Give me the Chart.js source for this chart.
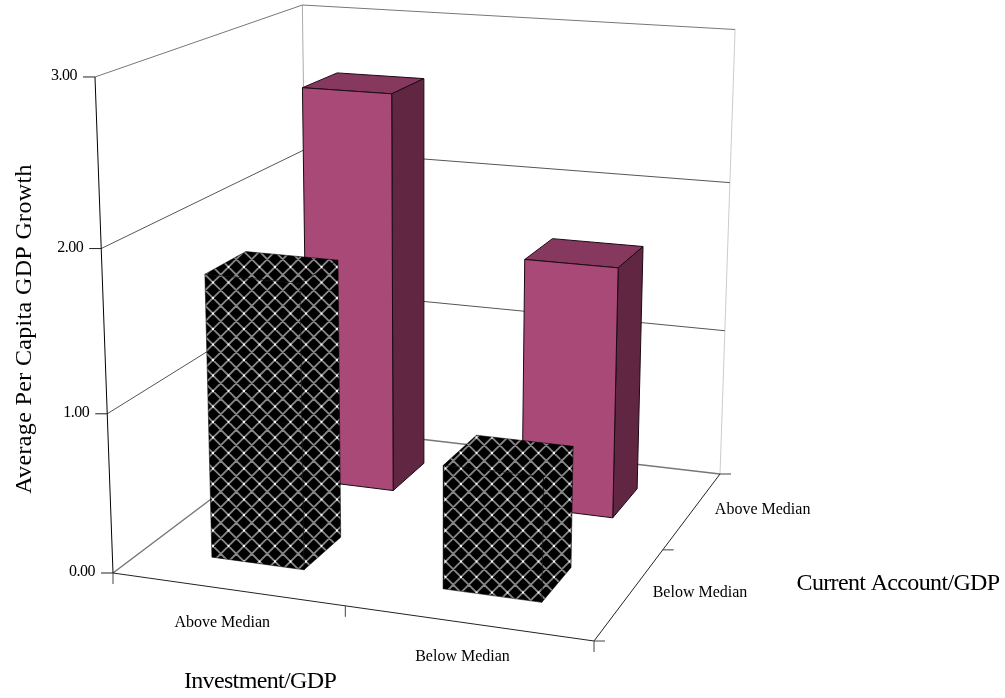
<!DOCTYPE html>
<html>
<head>
<meta charset="utf-8">
<style>
html, body { margin: 0; padding: 0; background: #fff; }
#wrap { width: 1005px; height: 698px; }
</style>
<script src="https://cdn.jsdelivr.net/npm/chart.js@4"></script>
</head>
<body>
<div id="wrap"><canvas id="chart" width="1005" height="698"></canvas></div>
<script>
// chart values
const investmentCategories = ['Above Median', 'Below Median'];
const currentAccountCategories = ['Below Median', 'Above Median']; // front to back
const growthBelowCA = [1.78, 0.77];   // black bars
const growthAboveCA = [2.64, 1.645];  // pink bars
const valueTicks = ['0.00', '1.00', '2.00', '3.00'];

const yTitle = 'Average Per Capita GDP Growth';
const xTitle = 'Investment/GDP';
const zTitle = 'Current Account/GDP';

const maxValue = 3;
const barWidthU = 0.203;
const barWidthV = 0.195;
const barShiftV = -0.006;

// floor of the 3d box on screen: front-left, front-right, back-right, back-left
const floorCorners = [[113, 573], [594, 641], [720, 474], [308, 426]];
const verticalVanish = [425, 9170]; // where the upright edges meet
const verticalScale = -0.05455;     // sets how tall the box is

// homography of the unit square onto the floor, returned in homogeneous form
function quadMap(q) {
    const [p0, p1, p2, p3] = q;
    const dx1 = p1[0] - p2[0], dx2 = p3[0] - p2[0], sx = p0[0] - p1[0] + p2[0] - p3[0];
    const dy1 = p1[1] - p2[1], dy2 = p3[1] - p2[1], sy = p0[1] - p1[1] + p2[1] - p3[1];
    const det = dx1 * dy2 - dx2 * dy1;
    const g = (sx * dy2 - dx2 * sy) / det;
    const h = (dx1 * sy - sx * dy1) / det;
    const a = p1[0] - p0[0] + g * p1[0], b = p3[0] - p0[0] + h * p3[0];
    const d = p1[1] - p0[1] + g * p1[1], e = p3[1] - p0[1] + h * p3[1];
    return (u, v) => [a * u + b * v + p0[0], d * u + e * v + p0[1], g * u + h * v + 1];
}
const floorMap = quadMap(floorCorners);

// u along Investment, v along Current Account, val in chart units
function project(u, v, val) {
    const [X, Y, W] = floorMap(u, v);
    const k = verticalScale * val / maxValue;
    const w = W + k;
    return { x: (X + k * verticalVanish[0]) / w, y: (Y + k * verticalVanish[1]) / w };
}

// lattice fill of the black bars, two periods of 15.5px so the tile wraps
function makePattern() {
    const tile = document.createElement('canvas');
    tile.width = 31; tile.height = 31;
    const c = tile.getContext('2d');
    const step = 15.5;
    c.fillStyle = '#000';
    c.fillRect(0, 0, 31, 31);
    c.strokeStyle = '#858585';
    c.lineWidth = 1.9;
    c.beginPath();
    for (let n = -4; n <= 8; n++) {
        const s = 15 + n * step, d = 8 + n * step;
        c.moveTo(-2, s + 2); c.lineTo(33, s - 33);
        c.moveTo(-2, -2 - d); c.lineTo(33, 33 - d);
    }
    c.stroke();
    c.fillStyle = '#fff';
    [11.5, 27].forEach(x => [3.5, 19].forEach(y => c.fillRect(x - 1, y - 1, 2, 2)));
    return c.createPattern(tile, 'repeat');
}

function lineSet(points, color, width) {
    return { data: points, borderColor: color, borderWidth: width || 1, fill: false, showLine: true, pointRadius: 0 };
}

function faceSet(points, color, edge) {
    return {
        data: points.concat([points[0]]),
        borderColor: edge, borderWidth: 1, backgroundColor: color,
        fill: 'shape', showLine: true, pointRadius: 0
    };
}

function barFaces(i, j, value, colors) {
    const u0 = (i + 0.5) / 2 - barWidthU / 2, u1 = u0 + barWidthU;
    const v0 = (j + 0.5) / 2 + barShiftV - barWidthV / 2, v1 = v0 + barWidthV;
    return [
        faceSet([project(u0, v1, value), project(u1, v1, value), project(u1, v0, value), project(u0, v0, value)], colors.top, colors.edge),
        faceSet([project(u1, v0, 0), project(u1, v1, 0), project(u1, v1, value), project(u1, v0, value)], colors.side, colors.edge),
        faceSet([project(u0, v0, 0), project(u1, v0, 0), project(u1, v0, value), project(u0, v0, value)], colors.front, colors.edge)
    ];
}

function frameLines() {
    const sets = [];
    const dark = '#555', wall = '#777';
    // walls
    sets.push(lineSet([project(0, 1, 0), project(0, 1, maxValue)], '#aaa'));
    sets.push(lineSet([project(1, 1, 0), project(1, 1, maxValue)], '#ccc'));
    sets.push(lineSet([project(0, 1, maxValue), project(1, 1, maxValue)], wall));
    sets.push(lineSet([project(0, 0, maxValue), project(0, 1, maxValue)], wall));
    // value gridlines
    valueTicks.forEach((t, n) => {
        if (n === 0 || n === 3) return;
        sets.push(lineSet([project(0, 0, n), project(0, 1, n), project(1, 1, n)], dark));
    });
    // floor
    sets.push(lineSet([project(0, 0, 0), project(0, 1, 0), project(1, 1, 0)], wall, 1.5));
    return sets;
}

function axisLines() {
    const sets = [];
    sets.push(lineSet([project(0, 0, 0), project(0, 0, maxValue)], '#000'));
    sets.push(lineSet([project(0, 0, 0), project(1, 0, 0)], '#222'));
    sets.push(lineSet([project(1, 0, 0), project(1, 1, 0)], '#222'));
    return sets;
}

const colorsPink = { top: '#87385e', side: '#612642', front: '#a94977', edge: '#1a0a12' };
const colorsBlack = { top: makePattern(), side: makePattern(), front: makePattern(), edge: 'rgba(0,0,0,0.55)' };

// painter's order, back to front
const painted = [].concat(
    frameLines(),
    axisLines(),
    barFaces(0, 1, growthAboveCA[0], colorsPink),
    barFaces(1, 1, growthAboveCA[1], colorsPink),
    barFaces(0, 0, growthBelowCA[0], colorsBlack),
    barFaces(1, 0, growthBelowCA[1], colorsBlack)
);
painted.forEach((d, n) => { d.order = painted.length - n; });

// tick marks and labels sit outside the box, drawn after the marks
const axisText = {
    id: 'axisText',
    afterDraw(chart) {
        const { ctx, scales } = chart;
        const sx = p => scales.x.getPixelForValue(p.x), sy = p => scales.y.getPixelForValue(p.y);
        const stroke = (a, dx, dy, color) => {
            ctx.strokeStyle = color;
            ctx.lineWidth = 1;
            ctx.beginPath();
            ctx.moveTo(sx(a), sy(a));
            ctx.lineTo(sx(a) + dx, sy(a) + dy);
            ctx.stroke();
        };
        ctx.save();
        valueTicks.forEach((t, n) => {
            const p = project(0, 0, n);
            stroke(p, -12, 0, '#222');
            ctx.font = '16px "Liberation Serif"';
            ctx.letterSpacing = '-0.5px';
            ctx.fillStyle = '#000';
            ctx.textAlign = 'right';
            ctx.textBaseline = 'middle';
            ctx.fillText(t, sx(p) - 18, sy(p) - 1);
        });
        [0, 0.5, 1].forEach(u => stroke(project(u, 0, 0), 0, 11, '#444'));
        [0, 0.5, 1].forEach(v => stroke(project(1, v, 0), 11, 0, '#444'));

        ctx.font = '16px "Liberation Serif"';
        ctx.letterSpacing = '0px';
        ctx.fillStyle = '#000';
        ctx.textBaseline = 'middle';
        ctx.textAlign = 'center';
        investmentCategories.forEach((c, i) => {
            const p = project((i + 0.5) / 2, 0, 0);
            ctx.fillText(c, sx(p) - 5, sy(p) + 34);
        });
        currentAccountCategories.forEach((c, j) => {
            const p = project(1, (j + 0.5) / 2, 0);
            ctx.fillText(c, sx(p) + 70, sy(p));
        });

        ctx.font = '24px "Liberation Serif"';
        ctx.letterSpacing = '-0.65px';
        ctx.fillText(xTitle, 260, 682);
        ctx.fillText(zTitle, 898, 584);
        ctx.translate(25, 329);
        ctx.rotate(-Math.PI / 2);
        ctx.letterSpacing = '0.35px';
        ctx.fillText(yTitle, 0, 0);
        ctx.restore();
    }
};

new Chart(document.getElementById('chart'), {
    type: 'scatter',
    data: { datasets: painted },
    options: {
        responsive: false,
        animation: false,
        layout: { padding: 0 },
        elements: { line: { tension: 0, borderJoinStyle: 'round' } },
        scales: {
            x: { type: 'linear', min: 0, max: 1005, display: false },
            y: { type: 'linear', min: 0, max: 698, reverse: true, display: false }
        },
        plugins: {
            legend: { display: false },
            tooltip: { enabled: false },
            filler: { drawTime: 'beforeDatasetDraw' }
        }
    },
    plugins: [axisText]
});
</script>
</body>
</html>
